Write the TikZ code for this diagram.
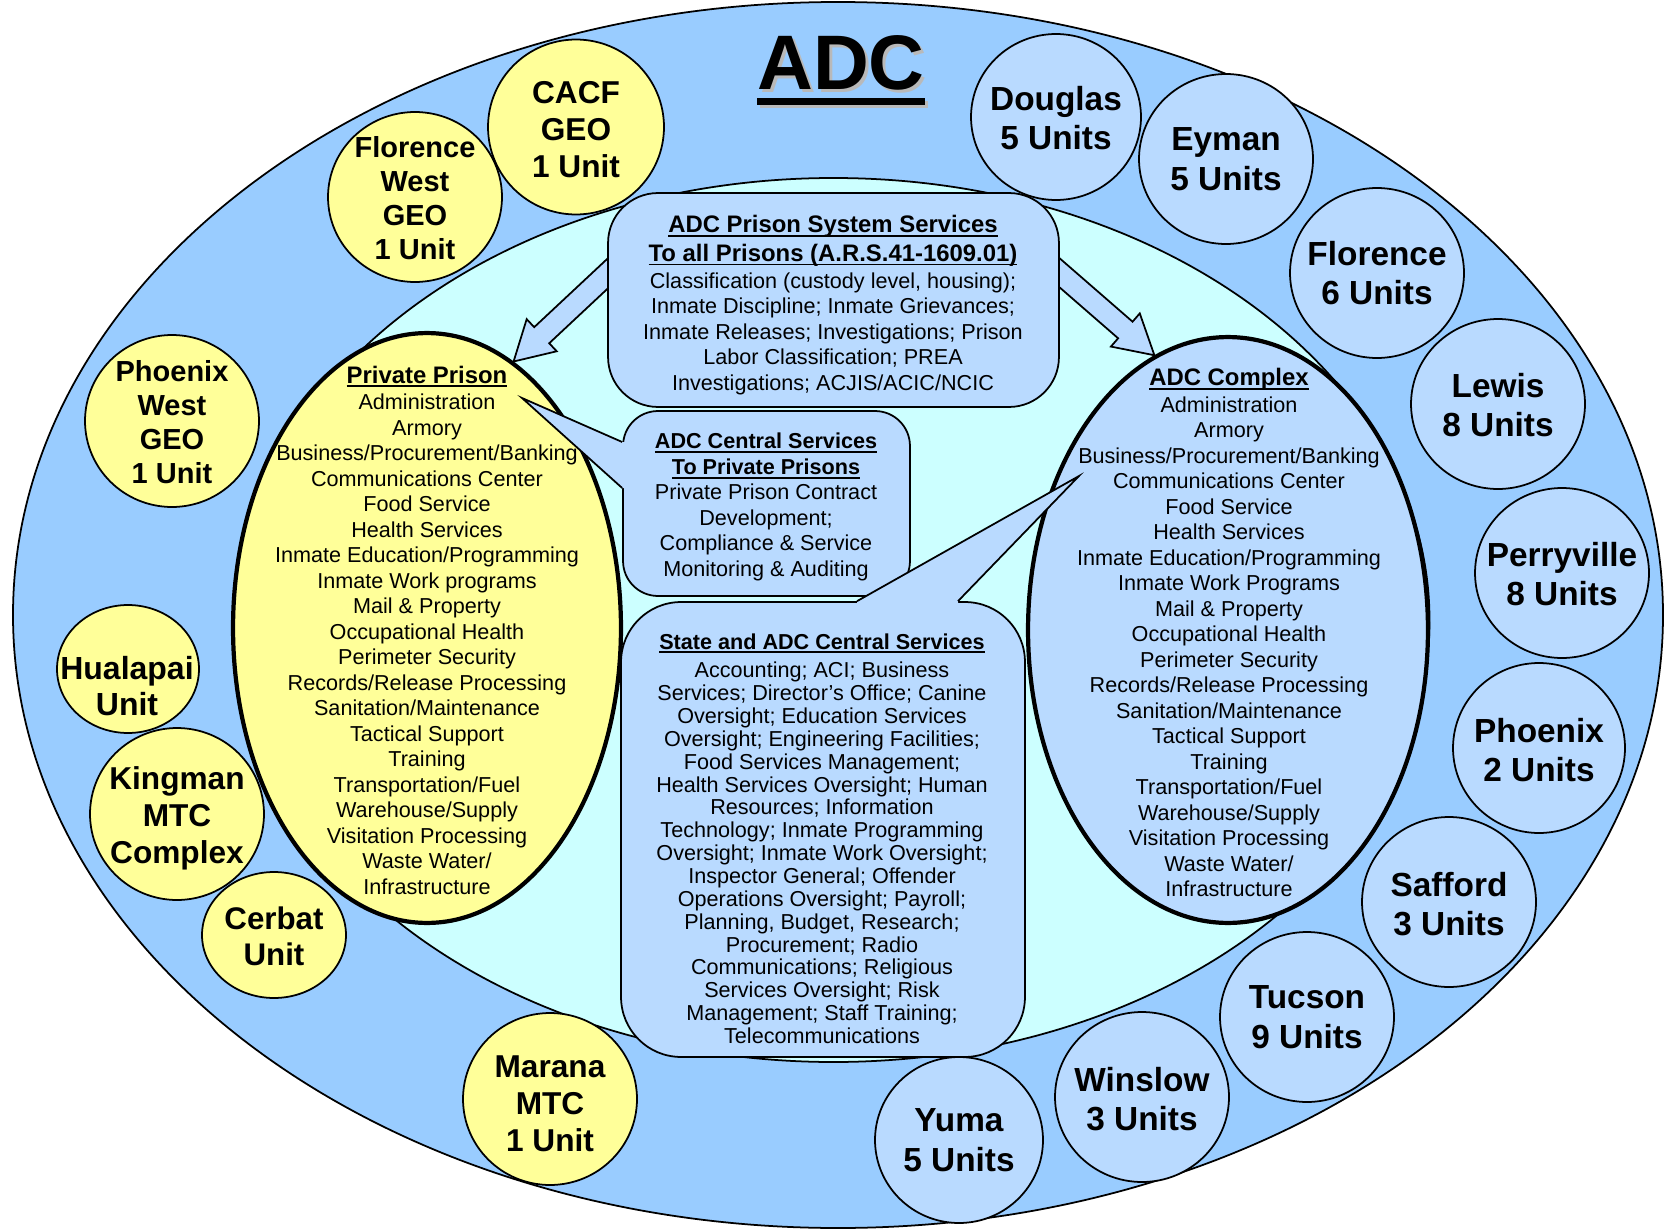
\documentclass[tikz,border=0pt]{standalone}
\usepackage{fontspec}
\setmainfont{Liberation Sans}
\usepackage{tikz}
\usepackage{xcolor}
\usetikzlibrary{shapes.geometric,calc}

\definecolor{outerblue}{RGB}{153,204,255}
\definecolor{unitblue}{RGB}{185,218,255}
\definecolor{innercyan}{RGB}{204,255,255}
\definecolor{privyellow}{RGB}{255,255,153}
\definecolor{shadowgray}{RGB}{185,185,185}

\newcommand{\ulbox}[1]{\setbox0=\hbox{#1}\rlap{\rule[-2.3pt]{\wd0}{1.1pt}}\box0}
\newcommand{\bighead}[1]{{\bfseries\fontsize{13.6}{15}\selectfont\ulbox{#1}}}
\newcommand{\smallhead}[1]{{\bfseries\ulbox{#1}}}

\begin{document}
\begin{tikzpicture}[x=0.02cm,y=-0.02cm]
	\useasboundingbox (0,0) rectangle (1664,1230);
	\tikzstyle{every node}=[inner sep=0pt]
	\tikzstyle{yunit}=[ellipse,draw=black,line width=1pt,fill=privyellow,minimum width=3.48cm,minimum height=3.4cm]
	\tikzstyle{bunit}=[yunit,fill=unitblue]
	\tikzstyle{unitname}=[align=center,font=\bfseries\fontsize{19}{22.5}\selectfont]
	\tikzstyle{bigoval}=[ellipse,draw=black,line width=2.4pt]
	\tikzstyle{svcbox}=[draw=black,line width=1pt,fill=unitblue]
	\tikzstyle{svctext}=[align=center,font=\fontsize{12.3}{14.5}\selectfont]
	\tikzstyle{fatarrow}=[draw=black,line width=1pt,fill=unitblue,
		to path={($(\tikztostart)!0.22cm!90:(\tikztotarget)$)
			-- ($(\tikztotarget)!0.77cm!(\tikztostart)!0.22cm!90:(\tikztotarget)$)
			-- ($(\tikztotarget)!0.77cm!(\tikztostart)!0.44cm!90:(\tikztotarget)$)
			-- (\tikztotarget)
			-- ($(\tikztotarget)!0.77cm!(\tikztostart)!0.44cm!-90:(\tikztotarget)$)
			-- ($(\tikztotarget)!0.77cm!(\tikztostart)!0.22cm!-90:(\tikztotarget)$)
			-- ($(\tikztostart)!0.22cm!-90:(\tikztotarget)$) -- cycle}]

	% rings
	\draw[line width=1pt,fill=outerblue] (838,615) ellipse [x radius=825,y radius=613];
	\draw[line width=1pt,fill=innercyan] (833.5,620) ellipse [x radius=596,y radius=442];

	% private units
	\node[yunit,minimum width=3.52cm,minimum height=3.5cm] (cacf) at (576,127) {};
	\node[yunit] (flwest) at (415,197) {};
	\node[yunit,minimum height=3.44cm] (phxwest) at (172,421) {};
	\node[yunit,minimum width=2.84cm,minimum height=2.56cm] (hualapai) at (128,669) {};
	\node[yunit,minimum height=3.44cm] (kingman) at (177,814) {};
	\node[yunit,minimum width=2.88cm,minimum height=2.52cm] (cerbat) at (274,935) {};
	\node[yunit,minimum height=3.44cm] (marana) at (550,1099) {};
	% state complexes
	\node[bunit,minimum width=3.36cm,minimum height=3.32cm] (yuma) at (959,1140) {};
	\node[bunit] (winslow) at (1142,1097) {};
	\node[bunit] (tucson) at (1307,1017) {};
	\node[bunit] (safford) at (1449,902) {};
	\node[bunit,minimum width=3.44cm] (phoenix) at (1539,748) {};
	\node[bunit] (perryville) at (1562,573) {};
	\node[bunit] (lewis) at (1498,404) {};
	\node[bunit] (florence) at (1377,273) {};
	\node[bunit] (eyman) at (1226,159) {};
	\node[bunit,minimum width=3.4cm,minimum height=3.32cm] (douglas) at (1056,117) {};

	\node[unitname,font=\bfseries\fontsize{18}{21}\selectfont] (cacf-name) at (576,130) {CACF\\GEO\\1 Unit};
	\node[unitname,font=\bfseries\fontsize{16.5}{19.3}\selectfont] (flwest-name) at (415,198) {Florence\\West\\GEO\\1 Unit};
	\node[unitname,font=\bfseries\fontsize{16.5}{19.3}\selectfont] (phxwest-name) at (172,422) {Phoenix\\West\\GEO\\1 Unit};
	\node[unitname,font=\bfseries\fontsize{18.2}{20.5}\selectfont] (hualapai-name) at (127,686) {Hualapai\\Unit};
	\node[unitname,font=\bfseries\fontsize{18}{21}\selectfont] (kingman-name) at (177,818) {Kingman\\MTC\\Complex};
	\node[unitname,font=\bfseries\fontsize{17.8}{20.5}\selectfont] (cerbat-name) at (274,936) {Cerbat\\Unit};
	\node[unitname,font=\bfseries\fontsize{18}{21}\selectfont] (marana-name) at (550,1104) {Marana\\MTC\\1 Unit};
	\node[unitname] (yuma-name) at (959,1140) {Yuma\\5 Units};
	\node[unitname] (winslow-name) at (1142,1099) {Winslow\\3 Units};
	\node[unitname] (tucson-name) at (1307,1017) {Tucson\\9 Units};
	\node[unitname] (safford-name) at (1449,904) {Safford\\3 Units};
	\node[unitname] (phoenix-name) at (1539,750) {Phoenix\\2 Units};
	\node[unitname] (perryville-name) at (1562,574) {Perryville\\8 Units};
	\node[unitname] (lewis-name) at (1498,405) {Lewis\\8 Units};
	\node[unitname] (florence-name) at (1377,273) {Florence\\6 Units};
	\node[unitname] (eyman-name) at (1226,159) {Eyman\\5 Units};
	\node[unitname] (douglas-name) at (1056,118) {Douglas\\5 Units};

	% the two kinds of prison
	\node[bigoval,fill=privyellow,minimum width=7.76cm,minimum height=11.8cm] (private) at (427,628) {};
	\node[bigoval,fill=unitblue,minimum width=8cm,minimum height=11.72cm] (complex) at (1228,630) {};

	\coordinate (toleft) at (620,262);
	\coordinate (toright) at (1046,261);
	\draw[fatarrow] (toleft) to (private.72);
	\draw[fatarrow] (toright) to (complex.105);

	% service boxes
	\node[svcbox,rounded corners=1cm,minimum width=9.02cm,minimum height=4.28cm] (topbox) at (833.5,300) {};

	\node[svcbox,rounded corners=0.7cm,minimum width=5.74cm,minimum height=3.7cm] (cenbox) at (766.5,503.5) {};
	\coordinate (cen-tip) at (522,398);
	\fill[unitblue] ($(cenbox.west)+(0,-61.5)$) -- (cen-tip) -- ($(cenbox.west)+(0,-15.5)$) -- ++(8,0) -- ($(cenbox.west)+(8,-61.5)$) -- cycle;
	\draw[line width=1pt] ($(cenbox.west)+(0,-61.5)$) -- (cen-tip) -- ($(cenbox.west)+(0,-15.5)$);

	\node[svcbox,rounded corners=1.2cm,minimum width=8.08cm,minimum height=9.1cm] (statebox) at (823,829.5) {};
	\coordinate (state-tip) at (1079,476);
	\fill[unitblue] ($(statebox.north)+(34,0)$) -- (state-tip) -- ($(statebox.north)+(135,0)$) -- ++(0,8) -- ($(statebox.north)+(34,8)$) -- cycle;
	\draw[line width=1pt] ($(statebox.north)+(34,0)$) -- (state-tip) -- ($(statebox.north)+(135,0)$);

	% texts
	\node[svctext] (top-text) at (833,305) {\bighead{ADC Prison System Services}\\[1.9pt]
		\bighead{To all Prisons (A.R.S.41-1609.01)}\\[0.8pt]
		Classification (custody level, housing);\\
		Inmate Discipline; Inmate Grievances;\\
		Inmate Releases; Investigations; Prison\\
		Labor Classification; PREA\\
		Investigations; ACJIS/ACIC/NCIC};
	\node[svctext] (cen-text) at (766,507) {\smallhead{ADC Central Services}\\[0.3pt]
		\smallhead{To Private Prisons}\\[-0.4pt]
		Private Prison Contract\\
		Development;\\
		Compliance \& Service\\
		Monitoring \& Auditing};
	\node[svctext,font=\fontsize{12.3}{13}\selectfont] (state-text) at (822,838.5) {\smallhead{State and ADC Central Services}\\[3.4pt]
		Accounting; ACI; Business\\
		Services; Director’s Office; Canine\\
		Oversight; Education Services\\
		Oversight; Engineering Facilities;\\
		Food Services Management;\\
		Health Services Oversight; Human\\
		Resources; Information\\
		Technology; Inmate Programming\\
		Oversight; Inmate Work Oversight;\\
		Inspector General; Offender\\
		Operations Oversight; Payroll;\\
		Planning, Budget, Research;\\
		Procurement; Radio\\
		Communications; Religious\\
		Services Oversight; Risk\\
		Management; Staff Training;\\
		Telecommunications};
	\node[svctext] (private-text) at (427,630) {\bighead{Private Prison}\\[0.8pt]
		Administration\\ Armory\\ Business/Procurement/Banking\\ Communications Center\\
		Food Service\\ Health Services\\ Inmate Education/Programming\\ Inmate Work programs\\
		Mail \& Property\\ Occupational Health\\ Perimeter Security\\ Records/Release Processing\\
		Sanitation/Maintenance\\ Tactical Support\\ Training\\ Transportation/Fuel\\
		Warehouse/Supply\\ Visitation Processing\\ Waste Water/\\ Infrastructure};
	\node[svctext] (complex-text) at (1229,632.5) {\bighead{ADC Complex}\\[0.8pt]
		Administration\\ Armory\\ Business/Procurement/Banking\\ Communications Center\\
		Food Service\\ Health Services\\ Inmate Education/Programming\\ Inmate Work Programs\\
		Mail \& Property\\ Occupational Health\\ Perimeter Security\\ Records/Release Processing\\
		Sanitation/Maintenance\\ Tactical Support\\ Training\\ Transportation/Fuel\\
		Warehouse/Supply\\ Visitation Processing\\ Waste Water/\\ Infrastructure};

	% title with its shadow
	\node[font=\bfseries\fontsize{44}{50}\selectfont,text=shadowgray,anchor=base] (title-shadow) at (844,93) {ADC};
	\fill[shadowgray] ($(title-shadow.base west)+(0,8)$) rectangle ($(title-shadow.base east)+(0,15)$);
	\node[font=\bfseries\fontsize{44}{50}\selectfont,anchor=base] (title) at (841,90) {ADC};
	\fill[black] ($(title.base west)+(0,8)$) rectangle ($(title.base east)+(0,15)$);
\end{tikzpicture}
\end{document}
